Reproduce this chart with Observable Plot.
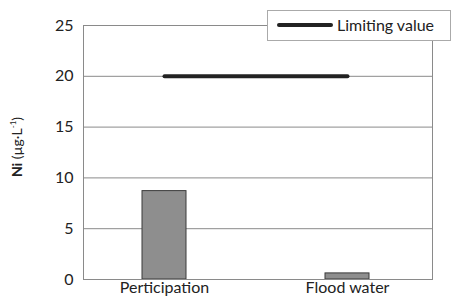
<!DOCTYPE html>
<html>
<head>
<meta charset="utf-8">
<script src="https://cdn.jsdelivr.net/npm/d3@7"></script>
<script src="https://cdn.jsdelivr.net/npm/@observablehq/plot@0.6"></script>
<style>
  body { margin: 0; background: #fff; }
  #chart { position: relative; width: 452px; height: 300px; }
</style>
</head>
<body>
<div id="chart"></div>
<script>
const categories = ["Perticipation", "Flood water"];
const niValues = [8.7, 0.6];
const limitValue = 20;
const yTicks = [0, 5, 10, 15, 20, 25];
const legendLabel = "Limiting value";

const bars = categories.map((c, i) => ({category: c, value: niValues[i]}));
const limit = categories.map(c => ({category: c, value: limitValue}));

const font = "Lato, 'Open Sans', sans-serif";

const plot = Plot.plot({
  width: 452,
  height: 300,
  marginLeft: 83,
  marginRight: 20,
  marginTop: 25,
  marginBottom: 21,
  style: {fontFamily: font, fontSize: "16px", color: "#222", background: "#fff"},
  x: {domain: categories, paddingInner: 0.758, paddingOuter: 0.328, align: 0.482, label: null, tickSize: 0, tickPadding: 2},
  y: {domain: [0, 25], ticks: yTicks, label: null, tickSize: 0, tickPadding: 10},
  marks: [
    Plot.gridY(yTicks, {stroke: "#8a8a8a", strokeOpacity: 1, strokeWidth: 1}),
    Plot.frame({stroke: "#8a8a8a", anchor: "left"}),
    Plot.frame({stroke: "#8a8a8a", anchor: "right"}),
    Plot.barY(bars, {x: "category", y: "value", fill: "#8e8e8e", stroke: "#3a3a3a", strokeWidth: 1}),
    Plot.lineY(limit, {x: "category", y: "value", stroke: "#222", strokeWidth: 4, strokeLinecap: "round"}),
    Plot.ruleY([0], {stroke: "#8a8a8a"})
  ]
});
document.getElementById("chart").appendChild(plot);

const svg = d3.select(plot);
// y axis label with superscript
const yl = svg.append("text")
  .attr("transform", "translate(22,147) rotate(-90)")
  .attr("text-anchor", "middle")
  .attr("font-family", font)
  .attr("font-size", 14)
  .attr("fill", "#222");
yl.append("tspan").attr("font-weight", "bold").text("Ni");
yl.append("tspan").text(" (µg·L");
yl.append("tspan").attr("font-size", 8).attr("dy", -6).text("-1");
yl.append("tspan").attr("dy", 6).text(")");

// legend
const lg = svg.append("g");
lg.append("rect").attr("x", 267.5).attr("y", 10.5).attr("width", 183).attr("height", 30)
  .attr("fill", "#fff").attr("stroke", "#aaa");
lg.append("line").attr("x1", 279).attr("x2", 331).attr("y1", 25).attr("y2", 25)
  .attr("stroke", "#222").attr("stroke-width", 4).attr("stroke-linecap", "round");
lg.append("text").attr("x", 337).attr("y", 31).attr("text-anchor", "start")
  .attr("font-family", font).attr("font-size", 16)
  .attr("fill", "#222").text(legendLabel);
</script>
</body>
</html>
